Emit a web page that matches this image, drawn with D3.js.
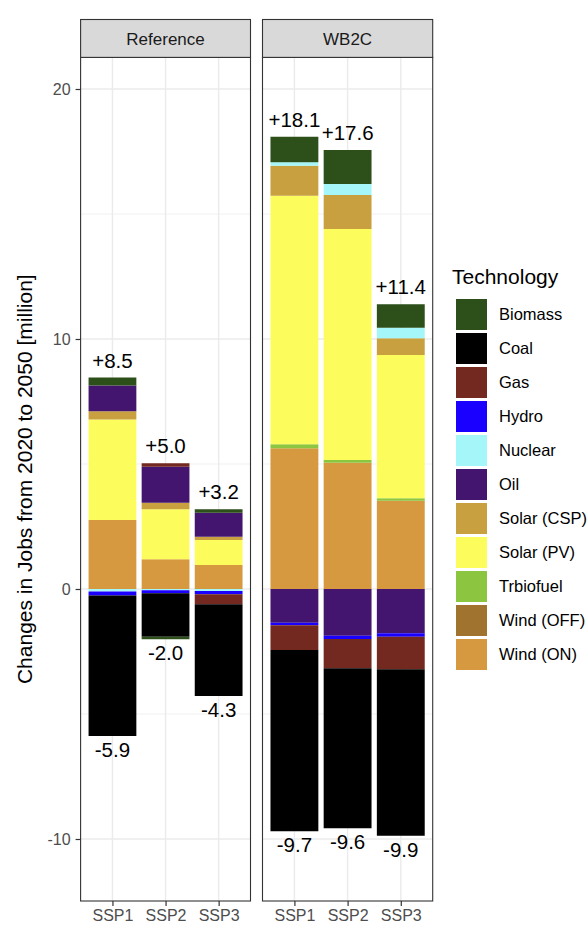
<!DOCTYPE html>
<html>
<head>
<meta charset="utf-8">
<script src="https://cdn.jsdelivr.net/npm/d3@7"></script>
<style>
  html, body { margin: 0; padding: 0; background: #ffffff; }
  svg { display: block; font-family: "Liberation Sans", Arial, Helvetica, sans-serif; }
</style>
</head>
<body>
<svg id="chart" width="588" height="929"></svg>
<script>
// ---------- data ----------
const scenarios = ["Reference", "WB2C"];
const ssps = ["SSP1", "SSP2", "SSP3"];
const techs = ["Biomass", "Coal", "Gas", "Hydro", "Nuclear", "Oil",
               "Solar (CSP)", "Solar (PV)", "Trbiofuel", "Wind (OFF)", "Wind (ON)"];
const techColors = ["#2d4f19", "#000000", "#73291f", "#1a00ff", "#a4f6f8", "#44156f",
                    "#c9a040", "#fcfc5c", "#8cc640", "#a0732e", "#d6993f"];
// values in million jobs: Reference SSP1..3, WB2C SSP1..3
const biomass  = [0.32, -0.10, 0.14, 1.02, 1.36, 0.94];
const coal     = [-5.62, -1.74, -3.67, -7.25, -6.40, -6.66];
const gas      = [0.00, 0.14, -0.40, -0.99, -1.17, -1.30];
const hydro    = [-0.16, -0.12, -0.13, -0.10, -0.13, -0.14];
const nuclear  = [-0.10, -0.05, -0.08, 0.14, 0.44, 0.42];
const oil      = [1.03, 1.44, 0.96, -1.35, -1.87, -1.77];
const solarCSP = [0.33, 0.26, 0.13, 1.20, 1.36, 0.67];
const solarPV  = [4.02, 2.00, 1.00, 9.94, 9.24, 5.73];
const trbiofuel= [0.00, 0.00, 0.00, 0.16, 0.11, 0.10];
const windOFF  = [0.00, 0.00, 0.00, 0.00, 0.00, 0.00];
const windON   = [2.76, 1.19, 0.96, 5.63, 5.05, 3.53];
const yTicks = [-10, 0, 10, 20];
const yMinor = [-5, 5, 15];
const yTitle = "Changes in Jobs from 2020 to 2050 [million]";
const legendTitle = "Technology";

// ---------- build table ----------
const series = [biomass, coal, gas, hydro, nuclear, oil, solarCSP, solarPV, trbiofuel, windOFF, windON];
const rows = [];
scenarios.forEach((sc, si) => ssps.forEach((sp, pi) => {
  const r = { scenario: sc, ssp: sp };
  techs.forEach((t, ti) => r[t] = series[ti][si * 3 + pi]);
  rows.push(r);
}));

// ---------- layout ----------
const svg = d3.select("#chart");
const FONT = '"Liberation Sans", Arial, Helvetica, sans-serif';
const panelTop = 57.4, panelBottom = 901;
const stripTop = 19.5;
const panels = [{ x0: 80.6, x1: 250.5 }, { x0: 262.5, x1: 432.7 }];

const y = d3.scaleLinear().domain([-12.48, 21.264]).range([panelBottom, panelTop]);
const color = d3.scaleOrdinal().domain(techs).range(techColors);

// stack: last level nearest zero (ggplot order)
const stackKeys = techs.slice().reverse();
const stacked = d3.stack().keys(stackKeys).offset(d3.stackOffsetDiverging)(rows);

const loc = d3.formatLocale({ decimal: ".", thousands: ",", grouping: [3], currency: ["$", ""], minus: "-" });
const fmtPos = loc.format("+.1f");
const fmtNeg = loc.format(".1f");
const fmtTick = loc.format("d");

scenarios.forEach((sc, si) => {
  const p = panels[si];
  const x = d3.scalePoint().domain(ssps).range([p.x0, p.x1]).padding(0.6);
  const step = x.step();
  const bw = step * 0.9;
  const g = svg.append("g");

  g.append("rect").attr("x", p.x0).attr("y", panelTop).attr("width", p.x1 - p.x0)
    .attr("height", panelBottom - panelTop).attr("fill", "#ffffff");

  g.selectAll(".ymin").data(yMinor).enter().append("line")
    .attr("x1", p.x0).attr("x2", p.x1)
    .attr("y1", d => y(d)).attr("y2", d => y(d))
    .attr("stroke", "#ebebeb").attr("stroke-width", 0.7);
  g.selectAll(".ymaj").data(yTicks).enter().append("line")
    .attr("x1", p.x0).attr("x2", p.x1)
    .attr("y1", d => y(d)).attr("y2", d => y(d))
    .attr("stroke", "#ebebeb").attr("stroke-width", 1.4);
  g.selectAll(".xmaj").data(ssps).enter().append("line")
    .attr("x1", d => x(d)).attr("x2", d => x(d))
    .attr("y1", panelTop).attr("y2", panelBottom)
    .attr("stroke", "#ebebeb").attr("stroke-width", 1.4);

  stacked.forEach(layer => {
    const tech = layer.key;
    layer.forEach((seg, i) => {
      const r = rows[i];
      if (r.scenario !== sc) return;
      if (seg[1] - seg[0] === 0) return;
      g.append("rect")
        .attr("x", x(r.ssp) - bw / 2)
        .attr("width", bw)
        .attr("y", y(Math.max(seg[0], seg[1])))
        .attr("height", Math.abs(y(seg[0]) - y(seg[1])))
        .attr("fill", color(tech));
    });
  });

  rows.filter(r => r.scenario === sc).forEach(r => {
    const pos = d3.sum(techs, t => Math.max(0, r[t]));
    const neg = d3.sum(techs, t => Math.min(0, r[t]));
    g.append("text").attr("x", x(r.ssp)).attr("y", y(pos) - 10)
      .attr("text-anchor", "middle").attr("font-size", 20.5).attr("fill", "#000")
      .attr("font-family", FONT).text(fmtPos(pos));
    g.append("text").attr("x", x(r.ssp)).attr("y", y(neg) + 21)
      .attr("text-anchor", "middle").attr("font-size", 20.5).attr("fill", "#000")
      .attr("font-family", FONT).text(fmtNeg(neg));
  });

  g.append("rect").attr("x", p.x0).attr("y", panelTop).attr("width", p.x1 - p.x0)
    .attr("height", panelBottom - panelTop).attr("fill", "none")
    .attr("stroke", "#333333").attr("stroke-width", 1.1);

  g.append("rect").attr("x", p.x0).attr("y", stripTop).attr("width", p.x1 - p.x0)
    .attr("height", panelTop - stripTop).attr("fill", "#d9d9d9")
    .attr("stroke", "#333333").attr("stroke-width", 1.1);
  g.append("text").attr("x", (p.x0 + p.x1) / 2).attr("y", (stripTop + panelTop) / 2)
    .attr("dy", "0.36em").attr("text-anchor", "middle").attr("font-size", 17)
    .attr("fill", "#1a1a1a").attr("font-family", FONT).text(sc);

  const xa = svg.append("g").attr("transform", `translate(0,${panelBottom})`)
    .call(d3.axisBottom(x).tickSize(5).tickPadding(4));
  xa.select(".domain").remove();
  xa.selectAll(".tick line").attr("stroke", "#333333").attr("stroke-width", 1.2);
  xa.selectAll(".tick text").attr("font-size", 16).attr("fill", "#4d4d4d")
    .attr("font-family", FONT);
});

const ya = svg.append("g").attr("transform", `translate(${panels[0].x0},0)`)
  .call(d3.axisLeft(y).tickValues(yTicks).tickSize(5).tickPadding(5).tickFormat(fmtTick));
ya.select(".domain").remove();
ya.selectAll(".tick line").attr("stroke", "#333333").attr("stroke-width", 1.2);
ya.selectAll(".tick text").attr("font-size", 16).attr("fill", "#4d4d4d")
  .attr("font-family", FONT);

svg.append("text")
  .attr("transform", `translate(24,${(panelTop + panelBottom) / 2}) rotate(-90)`)
  .attr("text-anchor", "middle").attr("dy", "0.36em")
  .attr("font-size", 21).attr("fill", "#000").attr("font-family", FONT)
  .text(yTitle);

const lg = svg.append("g");
lg.append("text").attr("x", 452).attr("y", 284).attr("font-size", 21)
  .attr("fill", "#000").attr("font-family", FONT).text(legendTitle);
techs.forEach((t, i) => {
  const top = 299 + i * 34;
  lg.append("rect").attr("x", 456).attr("y", top).attr("width", 31).attr("height", 31)
    .attr("fill", color(t));
  lg.append("text").attr("x", 499).attr("y", top + 15.5).attr("dy", "0.36em")
    .attr("font-size", 16.5).attr("fill", "#000").attr("font-family", FONT).text(t);
});
</script>
</body>
</html>
